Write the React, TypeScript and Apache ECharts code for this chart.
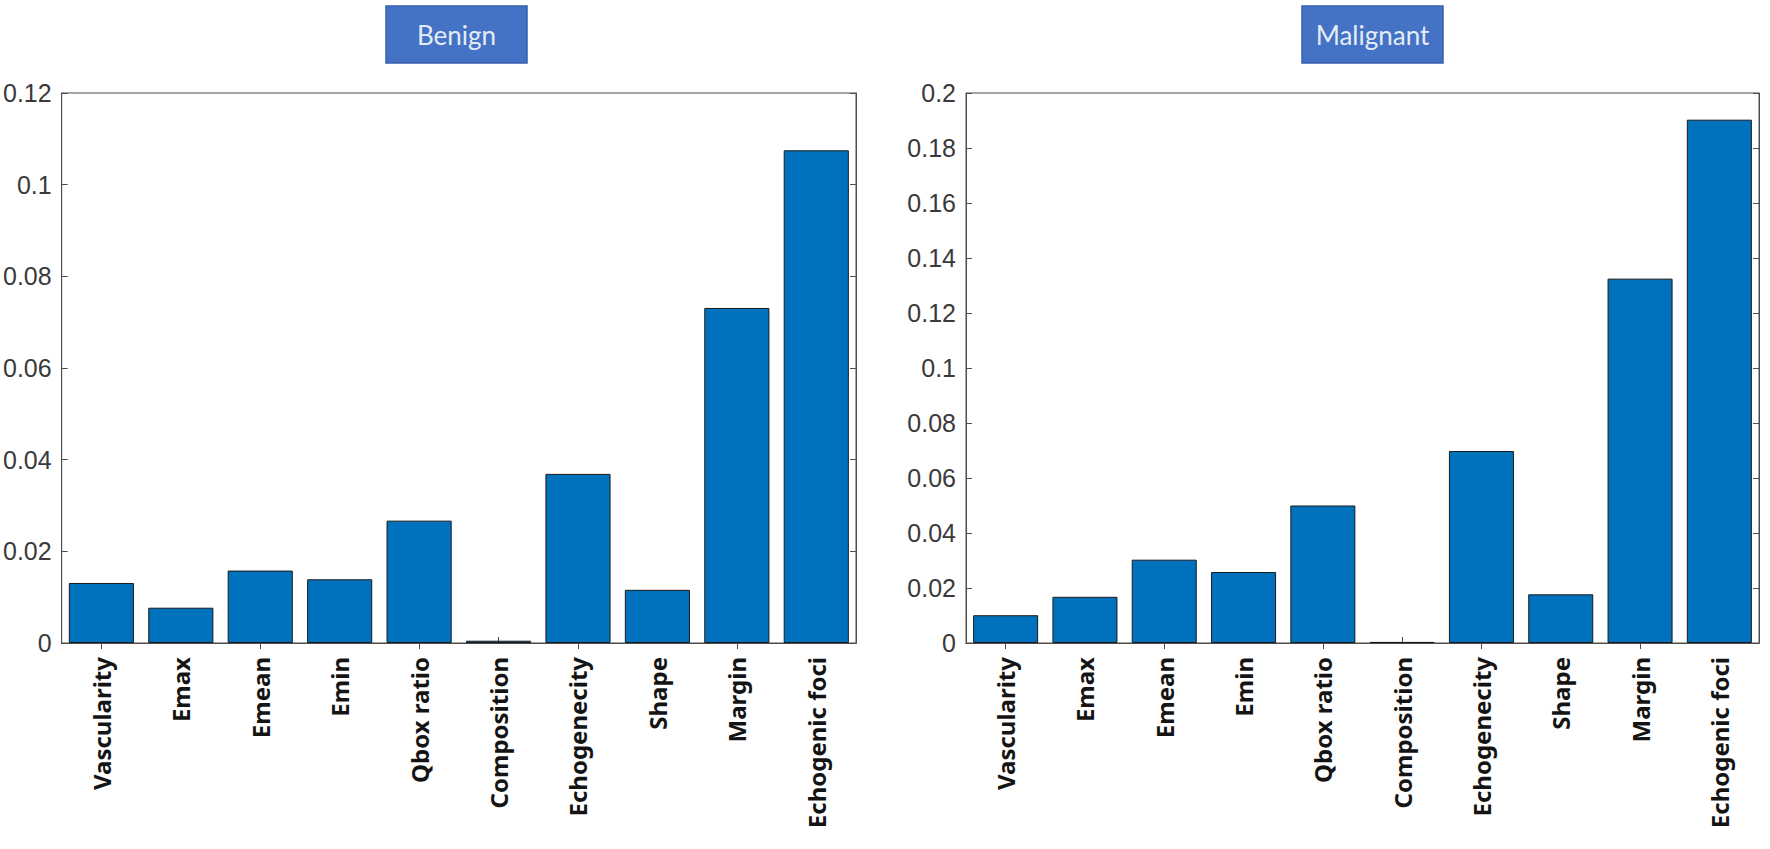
import React, { useEffect, useRef } from "react";
import * as echarts from "echarts";

const categories = [
  "Vascularity",
  "Emax",
  "Emean",
  "Emin",
  "Qbox ratio",
  "Composition",
  "Echogenecity",
  "Shape",
  "Margin",
  "Echogenic foci",
];
const benignValues = [0.0131, 0.0077, 0.0158, 0.0139, 0.0267, 0.0005, 0.0369, 0.0116, 0.0731, 0.1075];
const malignantValues = [0.0101, 0.0168, 0.0303, 0.0258, 0.05, 0.0004, 0.0698, 0.0177, 0.1325, 0.1903];
const panelTitles = ["Benign", "Malignant"];
const yMaxBenign = 0.12;
const yMaxMalignant = 0.2;
const yStep = 0.02;

const AXIS_COLOR = "#4d4d4d";
const BAR_COLOR = "#0072BD";

export default function App() {
  const ref = useRef<HTMLDivElement>(null);

  useEffect(() => {
    document.body.style.margin = "0";
    if (!ref.current) return;
    const chart = echarts.init(ref.current, undefined, { renderer: "svg" });

    const grids = [
      { left: 61, right: 914, top: 93, bottom: 206 },
      { left: 966, right: 11, top: 93, bottom: 206 },
    ];

    const xAxes: any[] = [];
    const yAxes: any[] = [];
    const maxes = [yMaxBenign, yMaxMalignant];
    grids.forEach((_, gi) => {
      xAxes.push({
        type: "category",
        gridIndex: gi,
        data: categories,
        position: "bottom",
        axisLine: { show: true, lineStyle: { color: AXIS_COLOR, width: 1 } },
        axisTick: { show: true, inside: true, alignWithLabel: true, length: 6, lineStyle: { color: AXIS_COLOR } },
        axisLabel: {
          rotate: 90,
          margin: 14,
          interval: 0,
          fontFamily: "Noto Sans",
          fontWeight: "bold",
          fontSize: 24,
          color: "#141414",
        },
      });
      xAxes.push({
        type: "category",
        gridIndex: gi,
        data: categories,
        position: "top",
        axisLine: { show: true, lineStyle: { color: AXIS_COLOR, width: 1 } },
        axisTick: { show: true, inside: true, alignWithLabel: true, length: 6, lineStyle: { color: AXIS_COLOR } },
        axisLabel: { show: false },
      });
      yAxes.push({
        type: "value",
        gridIndex: gi,
        min: 0,
        max: maxes[gi],
        interval: yStep,
        position: "left",
        axisLine: { show: true, lineStyle: { color: AXIS_COLOR, width: 1 } },
        axisTick: { show: true, inside: true, length: 6, lineStyle: { color: AXIS_COLOR } },
        splitLine: { show: false },
        axisLabel: {
          margin: 10,
          fontFamily: "Liberation Sans",
          fontSize: 25,
          color: "#3a3a3a",
          formatter: (v: number) => String(parseFloat(v.toFixed(4))),
        },
      });
      yAxes.push({
        type: "value",
        gridIndex: gi,
        min: 0,
        max: maxes[gi],
        interval: yStep,
        position: "right",
        axisLine: { show: true, lineStyle: { color: AXIS_COLOR, width: 1 } },
        axisTick: { show: true, inside: true, length: 6, lineStyle: { color: AXIS_COLOR } },
        splitLine: { show: false },
        axisLabel: { show: false },
      });
    });

    const barStyle = { color: BAR_COLOR, borderColor: "#1a1a1a", borderWidth: 1 };

    const titleBoxes = [
      { x: 386, w: 141, text: panelTitles[0] },
      { x: 1302, w: 141, text: panelTitles[1] },
    ];
    const graphic: any[] = [];
    titleBoxes.forEach((b) => {
      graphic.push({
        type: "rect",
        shape: { x: b.x, y: 6, width: b.w, height: 57 },
        style: { fill: "#4472C4", stroke: "#3660AC", lineWidth: 1.5 },
        z: 10,
      });
      graphic.push({
        type: "text",
        x: b.x + b.w / 2,
        y: 6 + 57 / 2,
        style: {
          text: b.text,
          fill: "#E4ECF8",
          font: "26px Lato",
          textAlign: "center",
          textVerticalAlign: "middle",
        },
        z: 11,
      });
    });

    chart.setOption({
      animation: false,
      backgroundColor: "#ffffff",
      grid: grids.map((g) => ({ ...g, show: true, borderColor: AXIS_COLOR, borderWidth: 1, backgroundColor: "transparent" })),
      xAxis: xAxes,
      yAxis: yAxes,
      series: [
        {
          type: "bar",
          name: panelTitles[0],
          xAxisIndex: 0,
          yAxisIndex: 0,
          data: benignValues,
          barWidth: "82%",
          itemStyle: barStyle,
        },
        {
          type: "bar",
          name: panelTitles[1],
          xAxisIndex: 2,
          yAxisIndex: 2,
          data: malignantValues,
          barWidth: "82%",
          itemStyle: barStyle,
        },
      ],
      graphic,
    });

    return () => {
      chart.dispose();
    };
  }, []);

  return <div ref={ref} style={{ width: 1770, height: 849 }} />;
}
